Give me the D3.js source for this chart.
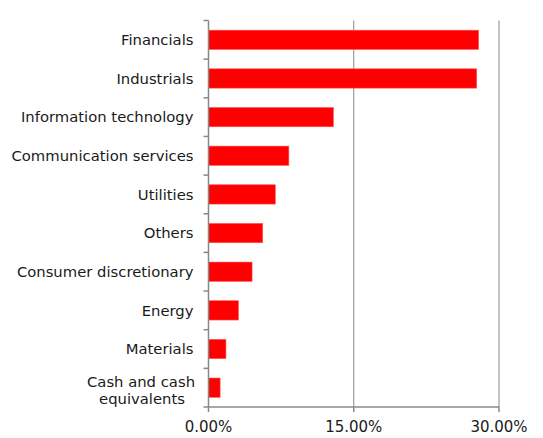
<!DOCTYPE html>
<html><head><meta charset="utf-8">
<script src="https://cdn.jsdelivr.net/npm/d3@7"></script>
<style>body{margin:0;background:#fff}svg{display:block}text{font-family:"DejaVu Sans",Verdana,sans-serif;fill:#1a1a1a}</style>
</head><body>
<svg id="c" width="543" height="438"></svg>
<script>
const categories = ["Financials","Industrials","Information technology","Communication services","Utilities","Others","Consumer discretionary","Energy","Materials","Cash and cash equivalents"];
const values = [27.9,27.7,12.9,8.3,6.9,5.6,4.5,3.1,1.8,1.2];
const xTicks = [0,15,30];

const svg = d3.select("#c");
const m = {left:208.5, right:44, top:20.5, bottom:31};
const W = 543, H = 438;
const x = d3.scaleLinear().domain([0,30]).range([m.left, W - m.right]);
const y = d3.scaleBand().domain(categories).range([m.top, H - m.bottom]).paddingInner(0.5).paddingOuter(0.25);
const grey = "#888";
const fs = "14.8px";

// gridlines
svg.append("g").selectAll("line").data(xTicks.filter(d=>d>0)).join("line")
  .attr("x1",d=>x(d)).attr("x2",d=>x(d)).attr("y1",m.top).attr("y2",H-m.bottom)
  .attr("stroke",grey).attr("stroke-width",1);

// bars
svg.append("g").selectAll("rect").data(values).join("rect")
  .attr("x",x(0)).attr("y",(d,i)=>y(categories[i]))
  .attr("width",d=>x(d)-x(0)).attr("height",y.bandwidth())
  .attr("fill","#ff0000").attr("stroke","#ff5a5a").attr("stroke-width",0.6);

// y axis
const step = y.step();
const bounds = d3.range(categories.length+1).map(i=>m.top + i*step);
const ya = svg.append("g");
ya.append("line").attr("x1",m.left).attr("x2",m.left).attr("y1",m.top).attr("y2",H-m.bottom).attr("stroke",grey).attr("stroke-width",1.5);
ya.selectAll("line.t").data(bounds).join("line").attr("class","t")
  .attr("x1",m.left-5).attr("x2",m.left).attr("y1",d=>d).attr("y2",d=>d).attr("stroke",grey).attr("stroke-width",1.5);

// y labels
const lab = svg.append("g").selectAll("text").data(categories).join("text")
  .attr("font-size",fs)
  .attr("y",d=>y(d)+y.bandwidth()/2);
lab.each(function(d){
  const t = d3.select(this);
  if(d==="Cash and cash equivalents"){
    t.attr("text-anchor","middle");
    t.append("tspan").attr("x",141).attr("dy","-0.05em").text("Cash and cash");
    t.append("tspan").attr("x",142).attr("dy","1.15em").text("equivalents");
  } else {
    t.attr("text-anchor","end").attr("x",m.left-15).attr("dy","0.35em").text(d);
  }
});

// x axis
const xa = svg.append("g");
xa.append("line").attr("x1",m.left).attr("x2",x(30)).attr("y1",H-m.bottom).attr("y2",H-m.bottom).attr("stroke",grey).attr("stroke-width",1.5);
xa.selectAll("line.t").data(xTicks).join("line").attr("class","t")
  .attr("x1",d=>x(d)).attr("x2",d=>x(d)).attr("y1",H-m.bottom).attr("y2",H-m.bottom+5).attr("stroke",grey).attr("stroke-width",1.5);
xa.selectAll("text").data(xTicks).join("text").attr("text-anchor","middle").attr("font-size","15px")
  .attr("x",d=>x(d)).attr("y",H-m.bottom+25).text(d=>d3.format(".2f")(d)+"%");
</script>
</body></html>
